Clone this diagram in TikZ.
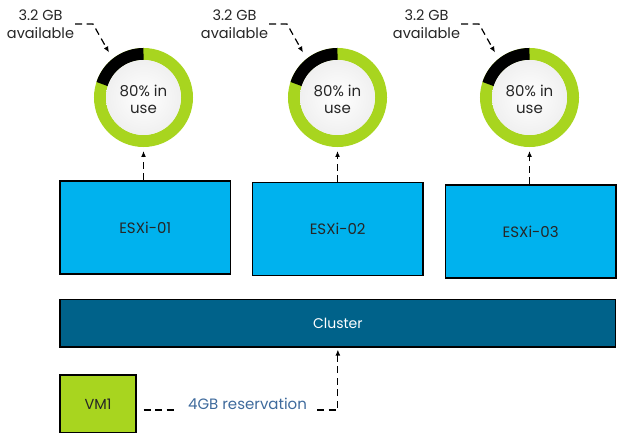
\documentclass[tikz,border=0pt]{standalone}
\usepackage{fontspec}
\setmainfont{Poppins}
\usetikzlibrary{arrows.meta,calc}
\definecolor{lime}{HTML}{A8D51F}
\definecolor{esxblue}{HTML}{00B2EE}
\definecolor{clblue}{HTML}{00628A}
\definecolor{resblue}{HTML}{3E6A9C}
\begin{document}
\begin{tikzpicture}[x=1pt,y=1pt,
  hostbox/.style={draw=black, line width=1.2pt, fill=esxblue, inner sep=0pt,
    minimum width=170.5pt, minimum height=93pt, font=\fontsize{15}{18}\selectfont, text=black!85},
  dsh/.style={dash pattern=on 7pt off 4.5pt, line width=1.2pt},
  arr/.style={-{Latex[length=6pt,width=5pt]}},
  lbl/.style={inner sep=1pt, align=center, font=\fontsize{14}{18}\selectfont, text=black!85}]
\useasboundingbox (0,0) rectangle (618,436);

% donuts and annotations
\foreach \i/\x in {1/143.5,2/337.5,3/529.5}{
  \node[circle, minimum size=99pt, inner sep=0pt, outer sep=0pt] (d\i) at (\x,338.5) {};
  \draw[lime, line width=12pt] (d\i.center) circle[radius=43.5pt];
  \draw[black, line width=12pt] ($(d\i.center)+(90:43.5pt)$) arc[start angle=90, end angle=162, radius=43.5pt];
  \shade[inner color=white, outer color=black!6] (d\i.center) circle[radius=37.5pt];
  \node[lbl, font=\fontsize{15}{17.5}\selectfont] (u\i) at ($(d\i.center)+(0,-1.8)$) {80\% in\\use};
  \node[lbl, font=\fontsize{14.5}{18}\selectfont] (a\i) at (\x-103,412) {3.2 GB\\available};
  \coordinate (k\i) at (\x-50.5,412);
  \coordinate (t\i) at (\x-34.5,383.5);
  \draw[dsh, arr] (a\i.east) -- (k\i) -- (t\i);
}

% hosts
\node[hostbox] (e1) at (145.25,208.5) {ESXi-01};
\node[hostbox] (e2) at (337.7,206.7) {ESXi-02};
\node[hostbox] (e3) at (530.7,204.5) {ESXi-03};

\foreach \i in {1,2,3}{
  \draw[dsh, arr] (e\i.north -| d\i.center) -- ($(d\i.south)+(0,-4)$);
}

% cluster
\node[draw=black, line width=1.2pt, fill=clblue, inner sep=0pt, minimum width=555.7pt,
  minimum height=47.7pt, text=white, font=\fontsize{14}{17}\selectfont] (cl) at (337.85,112.85) {Cluster};

% VM
\node[draw=black, line width=1.2pt, fill=lime, inner sep=0pt, minimum width=76pt,
  minimum height=57.7pt, text=black!85, font=\fontsize{14.5}{17}\selectfont] (vm) at (98,32.15) {VM1};

\node[anchor=base, inner sep=0pt, text=resblue, font=\fontsize{15}{18}\selectfont] (res) at (247.5,26) {4GB reservation};

\draw[dsh] ([xshift=7pt]vm.east |- res.base) -- ([xshift=-10pt]res.base west);
\draw[dsh, arr] ([xshift=10pt]res.base east) -- (res.base east -| cl.south) -- ([yshift=-2pt]cl.south);
\end{tikzpicture}
\end{document}
